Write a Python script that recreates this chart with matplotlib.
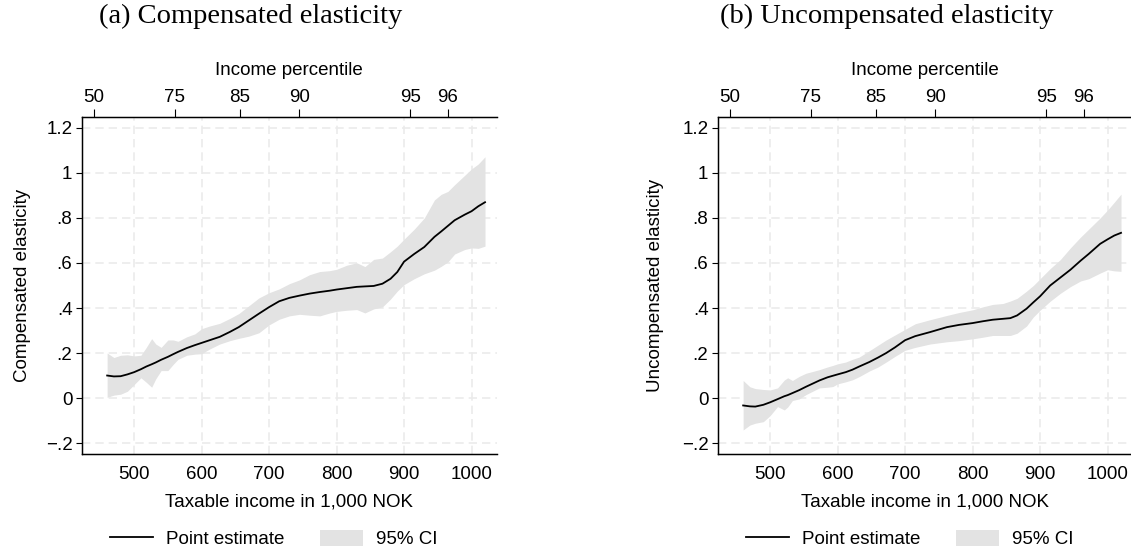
import numpy as np
import matplotlib
matplotlib.use("Agg")
import matplotlib.pyplot as plt
from matplotlib.patches import Patch
from matplotlib.lines import Line2D

plt.rcParams['font.family'] = ['Liberation Sans', 'DejaVu Sans']

# percentile axis on top (positions in 1,000 NOK)
pct_pos = [440, 560, 656.5, 744.5, 909, 965]
pct_lab = ["50", "75", "85", "90", "95", "96"]

# (a) compensated elasticity
inc_a = [460, 470, 480, 490, 500, 510, 518, 526, 532, 540, 550, 558, 565, 578, 590,
         600, 612, 627, 642, 655, 670, 685, 700, 715, 730, 745, 760, 775, 790, 800,
         815, 830, 842, 855, 868, 880, 890, 900, 915, 930, 945, 955, 965, 975, 990,
         1000, 1010, 1020]
est_a = [.100, .096, .097, .105, .115, .128, .140, .150, .158, .170, .183, .195, .205, .222, .235,
         .245, .257, .272, .294, .315, .345, .375, .404, .430, .445, .455, .464, .471, .477, .482,
         .488, .494, .496, .498, .508, .530, .560, .606, .640, .671, .716, .740, .765, .790, .815,
         .830, .852, .870]
hi_a = [.200, .180, .190, .192, .187, .190, .225, .264, .240, .225, .258, .258, .252, .272, .285,
        .308, .320, .332, .354, .375, .410, .445, .468, .485, .508, .525, .548, .562, .566, .572,
        .590, .601, .584, .616, .622, .650, .675, .706, .750, .800, .880, .905, .918, .948, .990,
        1.018, 1.040, 1.072]
lo_a = [.003, .013, .017, .030, .060, .090, .070, .048, .085, .122, .122, .150, .172, .190, .195,
        .197, .218, .240, .255, .265, .275, .290, .325, .350, .365, .372, .368, .365, .378, .385,
        .390, .393, .378, .396, .405, .440, .475, .504, .530, .552, .568, .585, .605, .640, .660,
        .667, .665, .675]

# (b) uncompensated elasticity
inc_b = [460, 470, 478, 490, 500, 511, 521, 526, 533, 543, 553, 563, 573, 585, 593,
         600, 612, 622, 632, 647, 660, 672, 685, 700, 715, 737, 762, 780, 800, 815,
         830, 845, 856, 866, 880, 890, 900, 915, 930, 945, 960, 972, 989, 1000, 1010, 1020]
est_b = [-.033, -.037, -.038, -.030, -.019, -.005, .008, .013, .022, .035, .050, .064, .078, .092, .099,
         .105, .115, .126, .140, .160, .180, .200, .225, .257, .275, .293, .315, .325, .333, .341,
         .348, .352, .355, .367, .397, .425, .452, .500, .535, .570, .610, .640, .685, .705, .722, .734]
hi_b = [.078, .050, .042, .038, .036, .045, .080, .090, .078, .096, .110, .118, .126, .138, .145,
        .152, .160, .172, .182, .210, .235, .258, .280, .305, .330, .348, .367, .380, .392, .405,
        .416, .420, .431, .443, .475, .500, .530, .575, .615, .667, .715, .750, .800, .835, .870, .906]
lo_b = [-.142, -.120, -.112, -.105, -.078, -.038, -.053, -.040, -.011, -.004, .015, .030, .045, .048, .051,
        .063, .072, .081, .095, .120, .138, .160, .185, .212, .225, .240, .250, .255, .263, .270,
        .278, .278, .278, .288, .320, .360, .390, .430, .465, .495, .520, .530, .555, .570, .565, .563]

yticks = [-.2, 0, .2, .4, .6, .8, 1, 1.2]
ylabs = ["\u2212.2", "0", ".2", ".4", ".6", ".8", "1", "1.2"]
xticks = [500, 600, 700, 800, 900, 1000]

W, H = 1131, 553
fig = plt.figure(figsize=(W / 100, H / 100), dpi=100)

band_c = "#e3e3e3"
grid_c = "#ebebeb"
fs = 13.5

panels = [
    (81.5, inc_a, est_a, hi_a, lo_a, "Compensated elasticity", "(a) Compensated elasticity", 251, 31),
    (717.5, inc_b, est_b, hi_b, lo_b, "Uncompensated elasticity", "(b) Uncompensated elasticity", 887, 664),
]

for left, x, est, hi, lo, ylab, title, tx, ylx in panels:
    ax = fig.add_axes([left / W, (H - 454.3) / H, 415 / W, 337.6 / H])
    ax.fill_between(x, lo, hi, color=band_c, lw=0, zorder=2)
    ax.plot(x, est, color="black", lw=1.3, zorder=3)
    ax.set_xlim(422, 1037)
    ax.set_ylim(-.25, 1.25)
    ax.set_yticks(yticks)
    ax.set_yticklabels(ylabs)
    ax.set_xticks(xticks)
    ax.grid(True, color=grid_c, lw=1.2, ls=(0, (5, 3)), zorder=1)
    ax.set_axisbelow(True)
    ax.spines["right"].set_visible(False)
    for s in ["left", "bottom", "top"]:
        ax.spines[s].set_linewidth(1.0)
    ax.tick_params(axis="y", length=4, width=0.8, pad=2.5, labelsize=fs)
    ax.tick_params(axis="x", length=0, pad=8.5, labelsize=fs)
    ax.set_xlabel("Taxable income in 1,000 NOK", fontsize=fs, labelpad=7.5)
    ax.set_ylabel(ylab, fontsize=fs)
    ax.yaxis.set_label_coords(-(left - ylx) / 415, 0.5)

    ax2 = ax.twiny()
    ax2.set_xlim(ax.get_xlim())
    ax2.set_xticks(pct_pos)
    ax2.set_xticklabels(pct_lab)
    ax2.spines["right"].set_visible(False)
    ax2.tick_params(axis="x", length=6, width=0.8, pad=2, labelsize=fs)
    ax2.set_xlabel("Income percentile", fontsize=fs, labelpad=9.5)

    fig.text(tx / W, 1 - 16 / H, title, ha="center", va="center",
             fontsize=20.5, family=["Liberation Serif", "DejaVu Serif"])

    handles = [Line2D([], [], color="black", lw=1.3),
               Patch(facecolor=band_c, edgecolor="none")]
    ax.legend(handles, ["Point estimate", "95% CI"], loc="center",
              bbox_to_anchor=((left - 81.5 + 274) / W, 1 - 539 / H),
              bbox_transform=fig.transFigure, ncol=2, frameon=False,
              fontsize=fs, handlelength=2.3, handleheight=1.0,
              handletextpad=0.7, columnspacing=1.9)

fig.savefig("out.png", dpi=100)
